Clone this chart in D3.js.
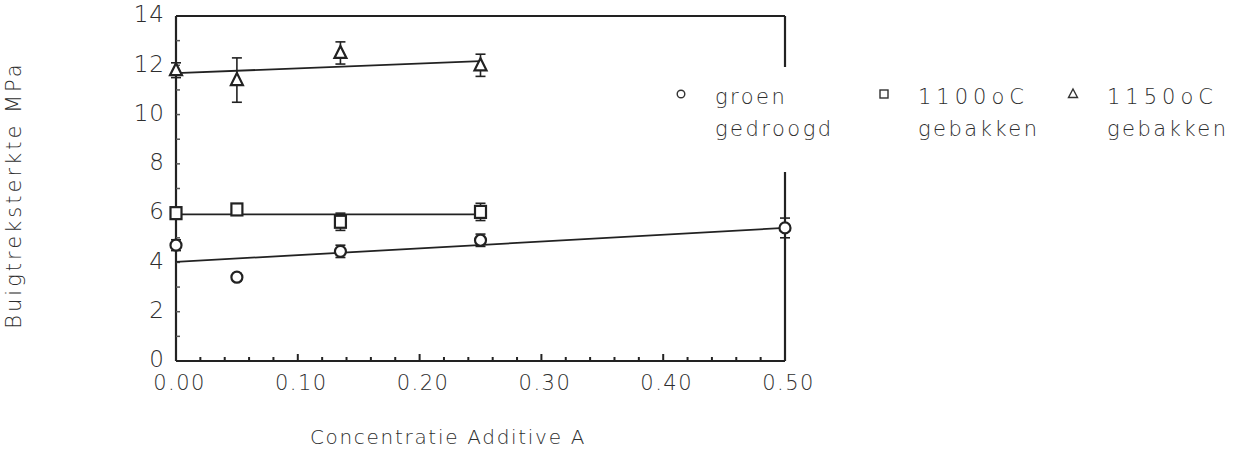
<!DOCTYPE html>
<html>
<head>
<meta charset="utf-8">
<script src="https://cdn.jsdelivr.net/npm/d3@7"></script>
<style>
  html, body { margin: 0; padding: 0; background: #fff; }
  svg text { font-family: "DejaVu Sans", "Liberation Sans", sans-serif; font-weight: 200; fill: #2e2e2e; }
</style>
</head>
<body>
<svg id="chart" width="1254" height="465"></svg>
<script>
// Concentration of additive A (x values of the measurements)
const concGroen = [0.00, 0.05, 0.135, 0.25, 0.50];
const groen     = [4.70, 3.40, 4.45, 4.90, 5.40];
const groenErr  = [0.22, 0.15, 0.25, 0.25, 0.40];

const concT1100 = [0.00, 0.05, 0.135, 0.25];
const t1100     = [6.00, 6.15, 5.65, 6.05];
const t1100Err  = [0.15, 0.15, 0.35, 0.35];

const concT1150 = [0.00, 0.05, 0.135, 0.25];
const t1150     = [11.80, 11.40, 12.50, 12.00];
const t1150Err  = [0.30, 0.90, 0.45, 0.45];

// Fitted trend lines: [x0, y0, x1, y1]
const fitGroen = [0.00, 4.02, 0.50, 5.40];
const fit1100  = [0.00, 5.95, 0.25, 5.95];
const fit1150  = [0.00, 11.68, 0.25, 12.17];

const xTicks = [0.00, 0.10, 0.20, 0.30, 0.40, 0.50];
const yTicks = [0, 2, 4, 6, 8, 10, 12, 14];

const legendLines = [["groen", "gedroogd"], ["1100oC", "gebakken"], ["1150oC", "gebakken"]];
const legendSymbols = ["circle", "square", "triangle"];

const svg = d3.select("#chart");
const ink = "#222";

const x = d3.scaleLinear().domain([0, 0.5]).range([176, 785]);
const y = d3.scaleLinear().domain([0, 14]).range([361, 16]);

// Frame: left and bottom axes, top border, broken right border
const frame = svg.append("g").attr("stroke", ink).attr("stroke-width", 2.2).attr("fill", "none");
frame.append("line").attr("x1", x(0)).attr("x2", x(0)).attr("y1", y(14)).attr("y2", y(0));
frame.append("line").attr("x1", x(0)).attr("x2", x(0.5)).attr("y1", y(0)).attr("y2", y(0));
frame.append("line").attr("x1", x(0)).attr("x2", x(0.5)).attr("y1", y(14)).attr("y2", y(14));
frame.append("line").attr("x1", x(0.5)).attr("x2", x(0.5)).attr("y1", y(14)).attr("y2", 67);
frame.append("line").attr("x1", x(0.5)).attr("x2", x(0.5)).attr("y1", 172).attr("y2", y(0));

// Inward minor ticks on the x axis every 0.02, taller at every 0.10
const xMinor = d3.range(1, 25).map(i => i * 0.02);
svg.append("g").attr("stroke", ink).attr("stroke-width", 2)
  .selectAll("line").data(xMinor).join("line")
  .attr("x1", d => x(d)).attr("x2", d => x(d))
  .attr("y1", y(0))
  .attr("y2", (d, i) => y(0) - ((i + 1) % 5 === 0 ? 7 : 4));

// Inward minor ticks on the y axis every unit
const yMinor = d3.range(1, 14);
svg.append("g").attr("stroke", "#555").attr("stroke-width", 1.5)
  .selectAll("line").data(yMinor).join("line")
  .attr("x1", x(0)).attr("x2", x(0) + 4)
  .attr("y1", d => y(d)).attr("y2", d => y(d));

// Axis labels via d3 axes (tick lines hidden)
const xAxis = svg.append("g").attr("transform", `translate(3,${y(0)})`)
  .call(d3.axisBottom(x).tickValues(xTicks).tickFormat(d3.format(".2f")).tickSize(0).tickPadding(14));
xAxis.select(".domain").remove();
xAxis.selectAll("text").style("font-size", "21px").style("font-family", "DejaVu Sans")
  .style("font-weight", 200).attr("fill", "#2e2e2e").attr("letter-spacing", "1.5px");

const yAxis = svg.append("g").attr("transform", `translate(${x(0)},0)`)
  .call(d3.axisLeft(y).tickValues(yTicks).tickFormat(d3.format("d")).tickSize(0).tickPadding(11));
yAxis.select(".domain").remove();
yAxis.selectAll("text").style("font-size", "23px").style("font-family", "DejaVu Sans")
  .style("font-weight", 200).attr("fill", "#2e2e2e").attr("dy", "0.25em").attr("letter-spacing", "1px");

// Axis titles
svg.append("text").attr("transform", "translate(21,195) rotate(-90)")
  .attr("text-anchor", "middle").style("font-size", "21px").attr("letter-spacing", "3px")
  .text("Buigtreksterkte  MPa");
svg.append("text").attr("x", 448).attr("y", 444)
  .attr("text-anchor", "middle").style("font-size", "20px").attr("letter-spacing", "1.7px")
  .text("Concentratie  Additive  A");

// Trend lines
const fits = [fitGroen, fit1100, fit1150];
svg.append("g").attr("stroke", ink).attr("stroke-width", 1.8)
  .selectAll("line").data(fits).join("line")
  .attr("x1", d => x(d[0])).attr("y1", d => y(d[1]))
  .attr("x2", d => x(d[2])).attr("y2", d => y(d[3]));

// Symbol drawing helper
function drawSymbol(g, kind, cx, cy) {
  if (kind === "circle") {
    g.append("circle").attr("cx", cx).attr("cy", cy).attr("r", 5.5);
  } else if (kind === "square") {
    g.append("rect").attr("x", cx - 5.5).attr("y", cy - 6).attr("width", 11).attr("height", 12);
  } else {
    g.append("path").attr("d", `M${cx},${cy - 7}L${cx + 6},${cy + 5}L${cx - 6},${cy + 5}Z`);
  }
}

const series = [
  { kind: "circle", xs: concGroen, ys: groen, errs: groenErr },
  { kind: "square", xs: concT1100, ys: t1100, errs: t1100Err },
  { kind: "triangle", xs: concT1150, ys: t1150, errs: t1150Err }
];

series.forEach(s => {
  const g = svg.append("g").attr("stroke", ink).attr("stroke-width", 2.2).attr("fill", "#fff");
  s.xs.forEach((cx, i) => {
    const px = x(cx), lo = y(s.ys[i] - s.errs[i]), hi = y(s.ys[i] + s.errs[i]);
    g.append("line").attr("x1", px).attr("x2", px).attr("y1", lo).attr("y2", hi).attr("stroke-width", 1.6);
    g.append("line").attr("x1", px - 5).attr("x2", px + 5).attr("y1", lo).attr("y2", lo).attr("stroke-width", 1.6);
    g.append("line").attr("x1", px - 5).attr("x2", px + 5).attr("y1", hi).attr("y2", hi).attr("stroke-width", 1.6);
    drawSymbol(g, s.kind, px, y(s.ys[i]));
  });
});

// Legend
const legendX = [681, 884, 1073];
legendSymbols.forEach((kind, i) => {
  const g = svg.append("g").attr("stroke", "#333").attr("stroke-width", 1.4).attr("fill", "#fff");
  const cx = legendX[i], cy = 94;
  if (kind === "circle") g.append("circle").attr("cx", cx).attr("cy", cy).attr("r", 3.8);
  else if (kind === "square") g.append("rect").attr("x", cx - 4).attr("y", cy - 4).attr("width", 8).attr("height", 8);
  else g.append("path").attr("d", `M${cx},${cy - 5}L${cx + 4.5},${cy + 3.5}L${cx - 4.5},${cy + 3.5}Z`);
  legendLines[i].forEach((t, j) => {
    svg.append("text").attr("x", cx + 34).attr("y", 104 + j * 32)
      .style("font-size", "21px").attr("letter-spacing", j === 0 && i > 0 ? "5px" : "2.5px").text(t);
  });
});
</script>
</body>
</html>
